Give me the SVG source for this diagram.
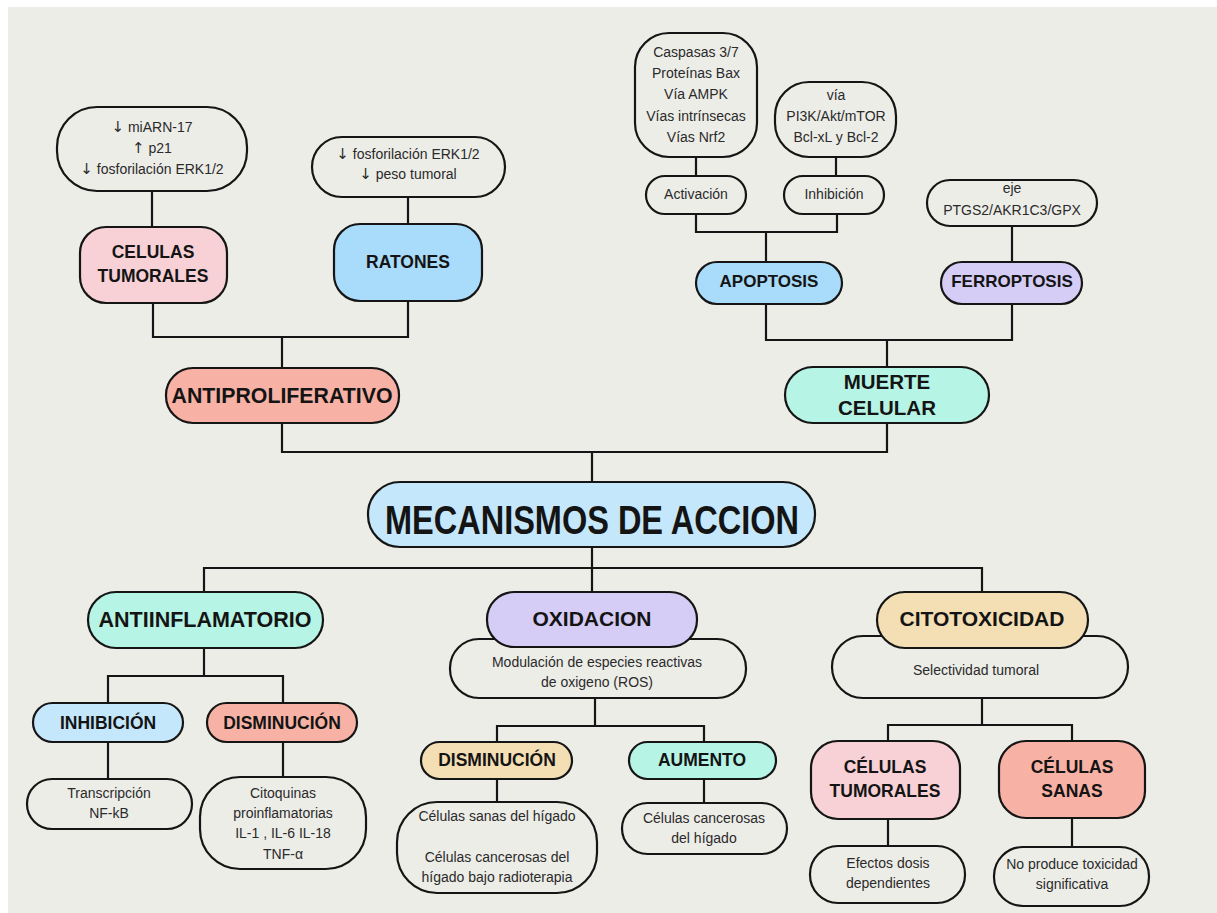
<svg xmlns="http://www.w3.org/2000/svg" width="1217" height="913" viewBox="0 0 1217 913">
<style>
.b{stroke:#151515;stroke-width:2.2}
.w{fill:#EDEDE8}
.pink{fill:#F7D1D6}.blue{fill:#A9DBFB}.lblue{fill:#C5E7FB}.sal{fill:#F7B2A5}.mint{fill:#B6F4E5}.lav{fill:#D6CDF6}.tan{fill:#F4DFB4}
.h{font-family:"Liberation Sans",Arial,sans-serif;font-weight:700;fill:#141414;text-anchor:middle}
.t{font-family:"Liberation Sans",Arial,sans-serif;font-size:14px;fill:#2a2a2a;text-anchor:middle}
.ar{font-family:"DejaVu Sans",sans-serif;font-size:15px}
#connectors path{fill:none;stroke:#151515;stroke-width:2.2}
</style>
<rect x="0" y="0" width="1217" height="913" fill="#ffffff"/>
<rect x="8" y="7" width="1209" height="906" fill="#EDEDE8"/>
<g id="connectors">
<path d="M152 191V227"/>
<path d="M408 197V224"/>
<path d="M153 303V337H408V301"/>
<path d="M282 337V368"/>
<path d="M282 423V452H887V423"/>
<path d="M696 157V176"/>
<path d="M836 157V176"/>
<path d="M696 214V232H837V214"/>
<path d="M766 232V262"/>
<path d="M1012 226V262"/>
<path d="M766 304V340H1012V304"/>
<path d="M887 340V367"/>
<path d="M592 452V482"/>
<path d="M592 547V568"/>
<path d="M204 592V568H982V592"/>
<path d="M592 568V592"/>
<path d="M204 648V676"/>
<path d="M108 703V676H283V703"/>
<path d="M108 742V779"/>
<path d="M283 742V777"/>
<path d="M595 698V726"/>
<path d="M497 742V726H704V742"/>
<path d="M497 779V802"/>
<path d="M704 779V803"/>
<path d="M982 698V725"/>
<path d="M888 741V725H1072V741"/>
<path d="M888 819V846"/>
<path d="M1072 818V847"/>
</g>
<g id="n-miarn">
<rect class="b w" x="57" y="107" width="190" height="84" rx="40"/>
<text class="t" x="152" y="132"><tspan class="ar">↓</tspan> miARN-17</text>
<text class="t" x="152" y="153"><tspan class="ar">↑</tspan> p21</text>
<text class="t" x="152" y="174"><tspan class="ar">↓</tspan> fosforilación ERK1/2</text>
</g>
<g id="n-ratones-efecto">
<rect class="b w" x="312" y="137" width="193" height="60" rx="30"/>
<text class="t" x="408" y="159"><tspan class="ar">↓</tspan> fosforilación ERK1/2</text>
<text class="t" x="408" y="179"><tspan class="ar">↓</tspan> peso tumoral</text>
</g>
<g id="n-celulas-tum">
<rect class="b pink" x="80" y="227" width="147" height="76" rx="26"/>
<text class="h" x="153" y="258" font-size="17.5">CELULAS</text>
<text class="h" x="153" y="282" font-size="17.5">TUMORALES</text>
</g>
<g id="n-ratones">
<rect class="b blue" x="334" y="224" width="148" height="77" rx="26"/>
<text class="h" x="408" y="268" font-size="17.5">RATONES</text>
</g>
<g id="n-antiprolif">
<rect class="b sal" x="166" y="368" width="233" height="55" rx="27"/>
<text class="h" x="282" y="403" font-size="22.5" textLength="221" lengthAdjust="spacingAndGlyphs">ANTIPROLIFERATIVO</text>
</g>
<g id="n-caspasas">
<rect class="b w" x="635" y="33" width="122" height="124" rx="34"/>
<text class="t" x="696" y="57">Caspasas 3/7</text>
<text class="t" x="696" y="78">Proteínas Bax</text>
<text class="t" x="696" y="99">Vía AMPK</text>
<text class="t" x="696" y="121">Vías intrínsecas</text>
<text class="t" x="696" y="142">Vías Nrf2</text>
</g>
<g id="n-via">
<rect class="b w" x="775" y="82" width="121" height="75" rx="34"/>
<text class="t" x="836" y="100">vía</text>
<text class="t" x="836" y="121">PI3K/Akt/mTOR</text>
<text class="t" x="836" y="142">Bcl-xL y Bcl-2</text>
</g>
<g id="n-activacion">
<rect class="b w" x="646" y="176" width="100" height="38" rx="19"/>
<text class="t" x="696" y="199">Activación</text>
</g>
<g id="n-inhibicion-top">
<rect class="b w" x="784" y="176" width="100" height="38" rx="19"/>
<text class="t" x="834" y="199">Inhibición</text>
</g>
<g id="n-eje">
<rect class="b w" x="927" y="180" width="170" height="46" rx="23"/>
<text class="t" x="1012" y="193">eje</text>
<text class="t" x="1012" y="215">PTGS2/AKR1C3/GPX</text>
</g>
<g id="n-apoptosis">
<rect class="b blue" x="696" y="262" width="146" height="42" rx="21"/>
<text class="h" x="769" y="287" font-size="17">APOPTOSIS</text>
</g>
<g id="n-ferroptosis">
<rect class="b lav" x="941" y="262" width="141" height="42" rx="21"/>
<text class="h" x="1012" y="287" font-size="17">FERROPTOSIS</text>
</g>
<g id="n-muerte">
<rect class="b mint" x="785" y="367" width="204" height="56" rx="28"/>
<text class="h" x="887" y="389" font-size="20.5">MUERTE</text>
<text class="h" x="887" y="415" font-size="20.5">CELULAR</text>
</g>
<g id="n-mecanismos">
<rect class="b lblue" x="368" y="482" width="447" height="65" rx="32"/>
<text class="h" x="592" y="534" font-size="41" textLength="414" lengthAdjust="spacingAndGlyphs">MECANISMOS DE ACCION</text>
</g>
<g id="n-antiinflam">
<rect class="b mint" x="88" y="592" width="235" height="56" rx="28"/>
<text class="h" x="205" y="627" font-size="21.5">ANTIINFLAMATORIO</text>
</g>
<g id="n-inhibicion">
<rect class="b lblue" x="33" y="703" width="150" height="39" rx="19.5"/>
<text class="h" x="108" y="729" font-size="17.5">INHIBICIÓN</text>
</g>
<g id="n-dismin-1">
<rect class="b sal" x="207" y="703" width="150" height="39" rx="19.5"/>
<text class="h" x="282" y="729" font-size="17.5">DISMINUCIÓN</text>
</g>
<g id="n-transcripcion">
<rect class="b w" x="27" y="779" width="165" height="50" rx="25"/>
<text class="t" x="109" y="798">Transcripción</text>
<text class="t" x="109" y="818">NF-kB</text>
</g>
<g id="n-citoquinas">
<rect class="b w" x="200" y="777" width="166" height="92" rx="40"/>
<text class="t" x="283" y="798">Citoquinas</text>
<text class="t" x="283" y="818">proinflamatorias</text>
<text class="t" x="283" y="838">IL-1 , IL-6 IL-18</text>
<text class="t" x="283" y="859">TNF-α</text>
</g>
<g id="n-modulacion">
<rect class="b w" x="450" y="639" width="296" height="59" rx="29"/>
<text class="t" x="597" y="667">Modulación de especies reactivas</text>
<text class="t" x="597" y="687">de oxigeno (ROS)</text>
</g>
<g id="n-oxidacion">
<rect class="b lav" x="487" y="592" width="210" height="55" rx="27"/>
<text class="h" x="592" y="626" font-size="21">OXIDACION</text>
</g>
<g id="n-dismin-2">
<rect class="b tan" x="421" y="742" width="151" height="37" rx="18.5"/>
<text class="h" x="497" y="766" font-size="17.5">DISMINUCIÓN</text>
</g>
<g id="n-aumento">
<rect class="b mint" x="629" y="742" width="147" height="37" rx="18.5"/>
<text class="h" x="702" y="766" font-size="17.5">AUMENTO</text>
</g>
<g id="n-sanas-higado">
<rect class="b w" x="397" y="802" width="200" height="91" rx="40"/>
<text class="t" x="497" y="821">Células sanas del hígado</text>
<text class="t" x="497" y="862">Células cancerosas del</text>
<text class="t" x="497" y="882">hígado bajo radioterapia</text>
</g>
<g id="n-cancerosas-higado">
<rect class="b w" x="622" y="803" width="165" height="51" rx="25.5"/>
<text class="t" x="704" y="823">Células cancerosas</text>
<text class="t" x="704" y="843">del hígado</text>
</g>
<g id="n-selectividad">
<rect class="b w" x="832" y="636" width="296" height="62" rx="31"/>
<text class="t" x="976" y="675">Selectividad tumoral</text>
</g>
<g id="n-citotox">
<rect class="b tan" x="877" y="592" width="211" height="56" rx="28"/>
<text class="h" x="982" y="626" font-size="21">CITOTOXICIDAD</text>
</g>
<g id="n-cel-tum-2">
<rect class="b pink" x="811" y="741" width="149" height="78" rx="27"/>
<text class="h" x="885" y="773" font-size="17.5">CÉLULAS</text>
<text class="h" x="885" y="797" font-size="17.5">TUMORALES</text>
</g>
<g id="n-cel-sanas">
<rect class="b sal" x="999" y="741" width="146" height="77" rx="27"/>
<text class="h" x="1072" y="773" font-size="17.5">CÉLULAS</text>
<text class="h" x="1072" y="797" font-size="17.5">SANAS</text>
</g>
<g id="n-efectos">
<rect class="b w" x="810" y="846" width="155" height="57" rx="28"/>
<text class="t" x="888" y="868">Efectos dosis</text>
<text class="t" x="888" y="888">dependientes</text>
</g>
<g id="n-noproduce">
<rect class="b w" x="994" y="847" width="155" height="59" rx="29"/>
<text class="t" x="1072" y="869">No produce toxicidad</text>
<text class="t" x="1072" y="889">significativa</text>
</g>
</svg>
